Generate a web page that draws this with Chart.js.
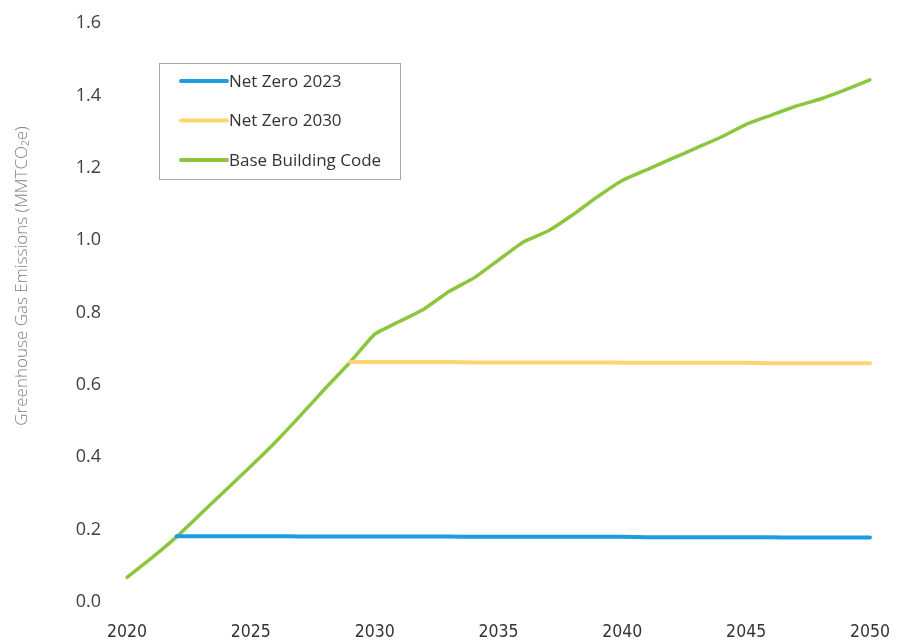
<!DOCTYPE html>
<html>
<head>
<meta charset="utf-8">
<script src="https://cdn.jsdelivr.net/npm/chart.js@4"></script>
<style>
  html, body { margin: 0; padding: 0; background: #fff; }
  #wrap { width: 910px; height: 643px; position: relative; }
</style>
</head>
<body>
<div id="wrap"><canvas id="myChart" width="910" height="643"></canvas></div>
<script>
// data
const years = [2020, 2021, 2022, 2023, 2024, 2025, 2026, 2027, 2028, 2029, 2030,
  2031, 2032, 2033, 2034, 2035, 2036, 2037, 2038, 2039, 2040,
  2041, 2042, 2043, 2044, 2045, 2046, 2047, 2048, 2049, 2050];

const netZero2023 = [null, null, 0.182, 0.182, 0.182, 0.182, 0.182, 0.181, 0.181, 0.181, 0.181,
  0.181, 0.181, 0.181, 0.180, 0.180, 0.180, 0.180, 0.180, 0.180, 0.180,
  0.179, 0.179, 0.179, 0.179, 0.179, 0.179, 0.178, 0.178, 0.178, 0.178];

const netZero2030 = [null, null, null, null, null, null, null, null, null, 0.663, 0.663,
  0.663, 0.663, 0.663, 0.662, 0.662, 0.662, 0.662, 0.662, 0.662, 0.661,
  0.661, 0.661, 0.661, 0.661, 0.661, 0.660, 0.660, 0.660, 0.660, 0.660];

const baseCode = [0.068, 0.122, 0.180, 0.245, 0.310, 0.375, 0.442, 0.515, 0.590, 0.662, 0.740,
  0.775, 0.810, 0.858, 0.895, 0.945, 0.995, 1.025, 1.070, 1.120, 1.165,
  1.195, 1.225, 1.255, 1.285, 1.320, 1.345, 1.370, 1.390, 1.415, 1.443];

const yTicks = [0, 0.2, 0.4, 0.6, 0.8, 1.0, 1.2, 1.4, 1.6];

// legend box + y title drawn by hand, the built-in legend can't float inside the plot
const overlay = {
  id: 'overlay',
  afterDraw(chart) {
    const c = chart.ctx;
    c.save();
    c.strokeStyle = '#a6a6a6';
    c.lineWidth = 1;
    c.strokeRect(159.5, 63.5, 241, 116);
    c.font = '17px "Open Sans", sans-serif';
    c.textBaseline = 'middle';
    chart.data.datasets.forEach((ds, i) => {
      const y = 81 + i * 39.5;
      c.strokeStyle = ds.borderColor;
      c.lineWidth = 4;
      c.lineCap = 'round';
      c.beginPath();
      c.moveTo(181, y);
      c.lineTo(227, y);
      c.stroke();
      c.fillStyle = '#333';
      c.fillText(ds.label, 229, y + 1);
    });
    // axis title
    c.translate(22, 276);
    c.rotate(-Math.PI / 2);
    c.textAlign = 'center';
    c.fillStyle = '#7f7f7f';
    c.font = '300 17px "Open Sans", sans-serif';
    c.fillText('Greenhouse Gas Emissions (MMTCO\u2082e)', 0, 0);
    c.restore();
  }
};

const ctx = document.getElementById('myChart');

new Chart(ctx, {
  type: 'line',
  data: {
    labels: years,
    datasets: [{
      label: 'Net Zero 2023',
      data: netZero2023,
      borderColor: '#1b9ddf',
      borderWidth: 4
    }, {
      label: 'Net Zero 2030',
      data: netZero2030,
      borderColor: '#ffd56f',
      borderWidth: 4
    }, {
      label: 'Base Building Code',
      data: baseCode,
      borderColor: '#8cc63f',
      borderWidth: 3.5
    }]
  },
  options: {
    responsive: false,
    animation: false,
    layout: { padding: { top: 23, right: 39, left: 0, bottom: 0 } },
    elements: { point: { radius: 0 }, line: { tension: 0.1, borderCapStyle: 'round' } },
    plugins: { legend: { display: false }, tooltip: { enabled: false } },
    scales: {
      x: {
        offset: false,
        grid: { display: false, drawTicks: false },
        border: { display: false },
        afterFit(scale) { scale.height = 41; },
        ticks: {
          autoSkip: false,
          maxRotation: 0,
          padding: 20,
          color: '#333',
          font: { family: '"DejaVu Sans Condensed", sans-serif', size: 17.5 },
          callback(val, i) {
            return years[i] % 5 === 0 ? String(years[i]) : '';
          }
        }
      },
      y: {
        min: 0,
        max: 1.6,
        grid: { display: false, drawTicks: false },
        border: { display: false },
        afterFit(scale) {
          scale.width = 127;
          scale.paddingTop = 0;
          scale.paddingBottom = 0;
        },
        afterBuildTicks(scale) { scale.ticks = yTicks.map(v => ({ value: v })); },
        ticks: {
          padding: 26,
          color: '#404040',
          font: { family: '"Open Sans", sans-serif', size: 18 },
          callback: v => v.toFixed(1)
        }
      }
    }
  },
  plugins: [overlay]
});
</script>
</body>
</html>
